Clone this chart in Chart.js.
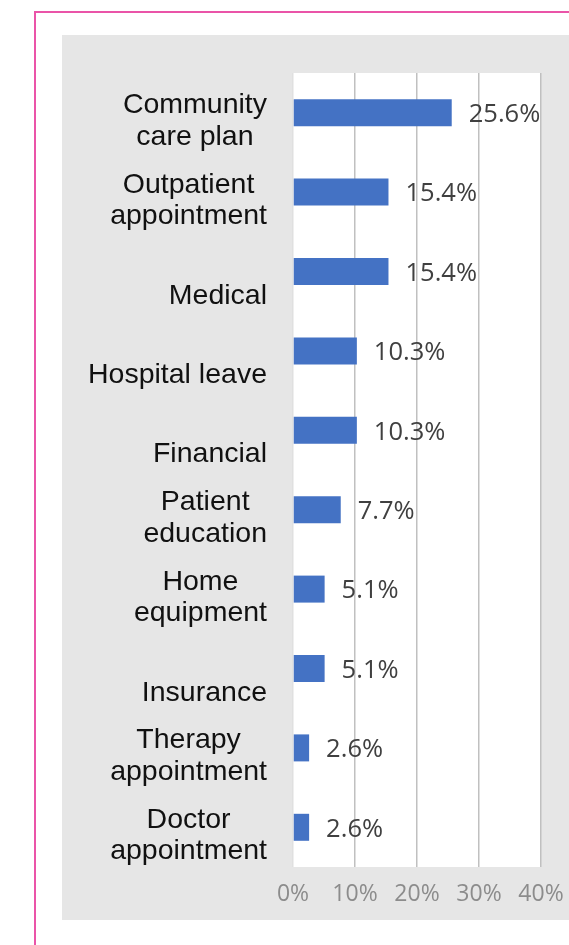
<!DOCTYPE html>
<html>
<head>
<meta charset="utf-8">
<script src="https://cdn.jsdelivr.net/npm/chart.js@4.4.1/dist/chart.umd.min.js"></script>
<style>
  html, body { margin: 0; padding: 0; background: #fff; }
  body { width: 569px; height: 945px; overflow: hidden; position: relative; }
  .frame {
    position: absolute; left: 34px; top: 11px; width: 600px; height: 1000px;
    border-left: 2px solid #ea54a8; border-top: 2px solid #ea54a8;
  }
  .panel {
    position: absolute; left: 62px; top: 35px; width: 507px; height: 885px;
    background: #e6e6e6;
  }
</style>
</head>
<body>
<div class="frame"></div>
<div class="panel"><canvas id="reasonsChart" width="507" height="885"></canvas></div>
<script>
// category labels, two lines each (single-line ones sit on the second line)
const categories = [
  ["Community", "care plan"],
  ["Outpatient", "appointment"],
  ["", "Medical"],
  ["", "Hospital leave"],
  ["", "Financial"],
  ["Patient", "education"],
  ["Home", "equipment"],
  ["", "Insurance"],
  ["Therapy", "appointment"],
  ["Doctor", "appointment"],
];
const shares = [25.6, 15.4, 15.4, 10.3, 10.3, 7.7, 5.1, 5.1, 2.6, 2.6];
const xTicks = [0, 10, 20, 30, 40];

const BAR_BLUE = "#4472c4";
const LABEL_FONT = "28.5px 'Liberation Sans', Arial, sans-serif";
const VALUE_FONT = "25.5px 'Open Sans', sans-serif";

// white plot background
const plotBg = {
  id: "plotBg",
  beforeDraw(chart) {
    const { ctx, chartArea: a } = chart;
    ctx.save();
    ctx.fillStyle = "#ffffff";
    ctx.fillRect(a.left, a.top, a.right - a.left, a.bottom - a.top);
    ctx.restore();
  },
};

// category names: block right aligned, lines centred inside the block
const categoryLabels = {
  id: "categoryLabels",
  afterDraw(chart) {
    const { ctx } = chart;
    const y = chart.scales.y;
    const right = chart.chartArea.left - 26;
    ctx.save();
    ctx.font = LABEL_FONT;
    ctx.fillStyle = "#111111";
    ctx.textAlign = "center";
    ctx.textBaseline = "alphabetic";
    categories.forEach((lines, i) => {
      const py = y.getPixelForValue(i);
      const w = Math.max(...lines.map((l) => ctx.measureText(l).width));
      const cx = right - w / 2;
      lines.forEach((line, k) => {
        if (line) ctx.fillText(line, cx, py + 0.5 + k * 31.5);
      });
    });
    ctx.restore();
  },
};

// percentage next to each bar
const valueLabels = {
  id: "valueLabels",
  afterDatasetsDraw(chart) {
    const { ctx } = chart;
    const meta = chart.getDatasetMeta(0);
    ctx.save();
    ctx.font = VALUE_FONT;
    ctx.fillStyle = "#404040";
    ctx.textAlign = "left";
    ctx.textBaseline = "middle";
    meta.data.forEach((bar, i) => {
      ctx.fillText(shares[i].toFixed(1) + "%", bar.x + 17, bar.y + 2);
    });
    ctx.restore();
  },
};

new Chart(document.getElementById("reasonsChart").getContext("2d"), {
  type: "bar",
  data: {
    labels: categories,
    datasets: [
      {
        data: shares,
        backgroundColor: BAR_BLUE,
        borderWidth: 0,
        barPercentage: 0.34,
        categoryPercentage: 1,
      },
    ],
  },
  options: {
    indexAxis: "y",
    responsive: false,
    animation: false,
    devicePixelRatio: 1,
    layout: { padding: { top: 38, right: 28, left: 0, bottom: 0 } },
    plugins: { legend: { display: false }, tooltip: { enabled: false } },
    scales: {
      x: {
        min: xTicks[0],
        max: xTicks[xTicks.length - 1],
        afterBuildTicks(scale) {
          scale.ticks = xTicks.map((v) => ({ value: v }));
        },
        afterFit(scale) {
          scale.height = 53;
          scale.paddingLeft = 0;
          scale.paddingRight = 0;
        },
        grid: {
          color: (c) => (c.index === 0 ? "#e0e0e0" : "#c0c0c0"),
          lineWidth: 1.5,
          drawTicks: false,
        },
        border: { display: false },
        ticks: {
          color: "#8c8c8c",
          padding: 14,
          font: { family: "'Open Sans', sans-serif", size: 23 },
          callback: (v) => v + "%",
        },
      },
      y: {
        afterFit(scale) {
          scale.width = 231;
        },
        grid: { display: false },
        border: { display: false },
        ticks: { display: false },
      },
    },
  },
  plugins: [plotBg, categoryLabels, valueLabels],
});
</script>
</body>
</html>
